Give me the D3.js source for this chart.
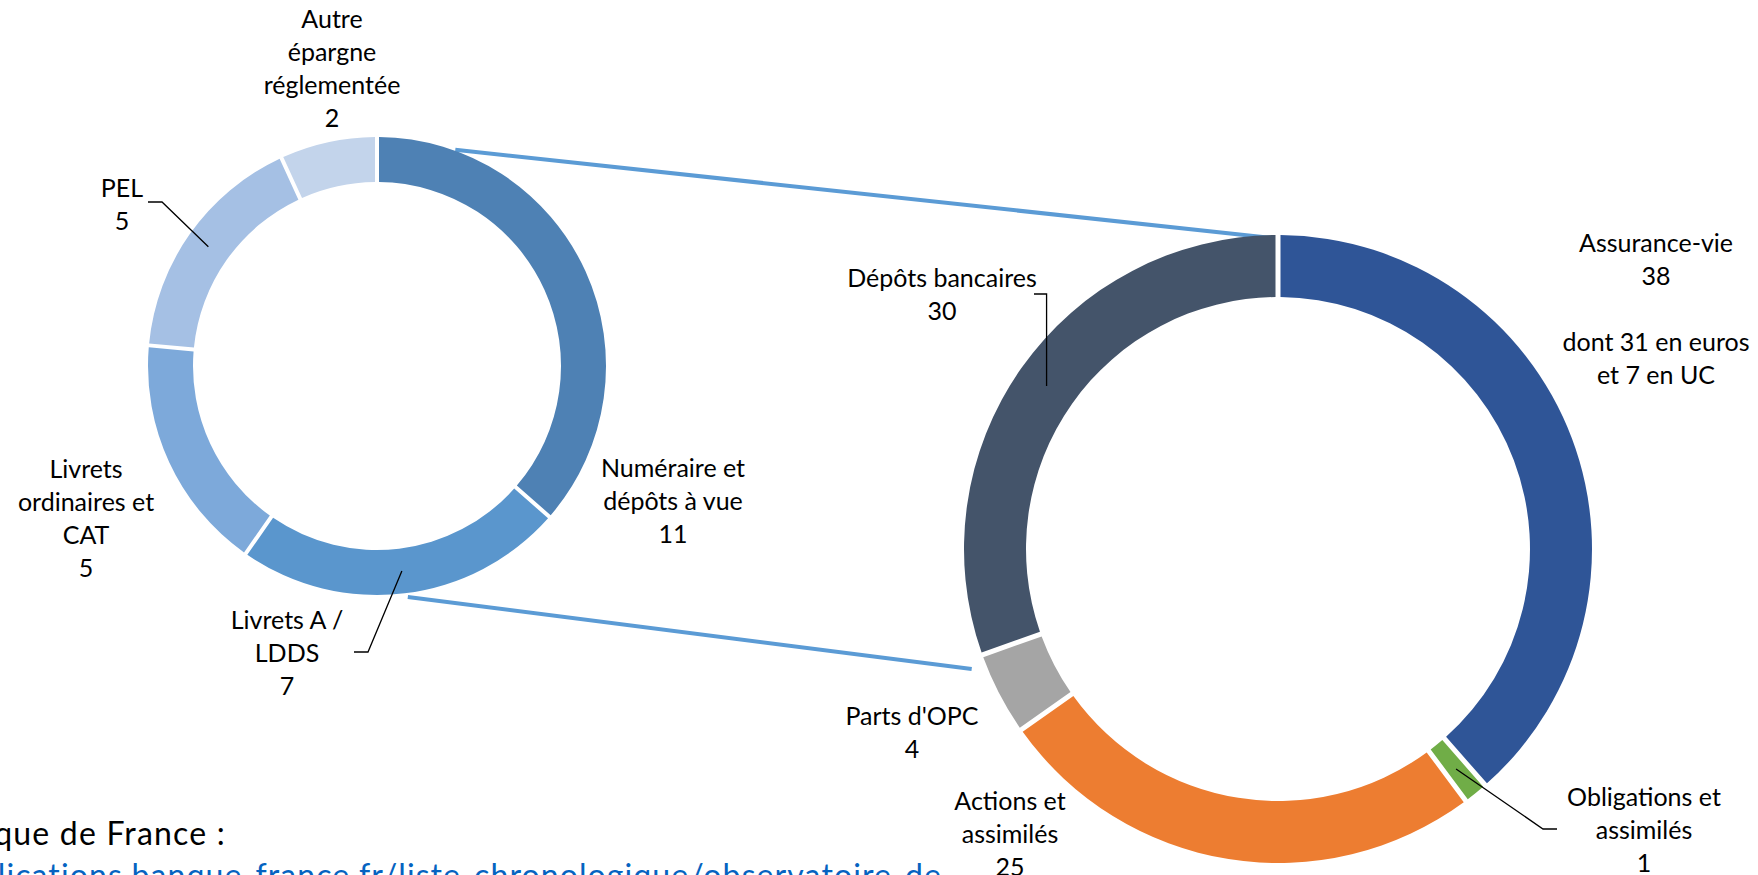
<!DOCTYPE html>
<html>
<head>
<meta charset="utf-8">
<script src="https://cdn.jsdelivr.net/npm/d3@7"></script>
<style>
  html, body { margin: 0; padding: 0; background: #fff; overflow: hidden; }
  text { font-family: Lato, "Liberation Sans", sans-serif; }
</style>
</head>
<body>
<svg id="chart"></svg>
<script>
// épargne réglementée + dépôts à vue (sous-détail des dépôts bancaires)
var depotsLabels = ["Numéraire et dépôts à vue", "Livrets A / LDDS", "Livrets ordinaires et CAT", "PEL", "Autre épargne réglementée"];
var depotsLines = [["Numéraire et", "dépôts à vue"], ["Livrets A /", "LDDS"], ["Livrets", "ordinaires et", "CAT"], ["PEL"], ["Autre", "épargne", "réglementée"]];
var depotsValues = [11, 7, 5, 5, 2];
var depotsColors = ["#4e81b4", "#5a96cd", "#7da9da", "#a5c0e4", "#c3d4eb"];

// placements financiers des ménages
var placLabels = ["Assurance-vie", "Obligations et assimilés", "Actions et assimilés", "Parts d'OPC", "Dépôts bancaires"];
var placLines = [["Assurance-vie"], ["Obligations et", "assimilés"], ["Actions et", "assimilés"], ["Parts d'OPC"], ["Dépôts bancaires"]];
var placValues = [38, 1, 25, 4, 30];
var placExtra = [["", "dont 31 en euros", "et 7 en UC"], [], [], [], []];
var placColors = ["#2f5597", "#70ad47", "#ed7d31", "#a5a5a5", "#44546a"];

var sourceLine = "Source : Banque de France :";
var linkLine = "https://publications.banque-france.fr/liste-chronologique/observatoire-de";

var W = 1758, H = 875;
var d3 = window.d3;
var svg = d3.select("#chart").attr("width", W).attr("height", H);
svg.append("rect").attr("width", W).attr("height", H).attr("fill", "#fff");

var lineH = 33;
var small = {cx: 377, cy: 366, r0: 184, r1: 229, gap: 4,
  // label anchors relative to center (x = centre du texte, y = 1re ligne de base)
  pos: [[296, 111], [-90, 263], [-291, 112], [-255, -169], [-45, -338]],
  leader: [null, [[81, 23], [67, 23]], null, [[40, 5], [26, 5]], null]
};
var big = {cx: 1278, cy: 549, r0: 252, r1: 314, gap: 5,
  pos: [[378, -297], [366, 257], [-268, 261], [-366, 176], [-336, -262]],
  leader: [null, [[-101, 23], [-87, 23]], null, null, ["v", [92, 7]]]
};

var pie = d3.pie().sort(null).value(function(d){ return d; });

function drawDonut(cfg, values, colors, lines, extra) {
  var g = svg.append("g").attr("transform", "translate(" + cfg.cx + "," + cfg.cy + ")");
  var arcs = pie.padAngle(cfg.gap / cfg.r1)(values);
  var arc = d3.arc().innerRadius(cfg.r0).outerRadius(cfg.r1).padRadius(cfg.r1);
  var mid = (cfg.r0 + cfg.r1) / 2;
  var midArc = d3.arc().innerRadius(mid).outerRadius(mid);

  g.selectAll("path.slice").data(arcs).enter().append("path")
    .attr("class", "slice")
    .attr("d", arc)
    .attr("fill", function(d, i){ return colors[i]; });

  arcs.forEach(function(d, i) {
    var p = cfg.pos[i];
    var txt = lines[i].concat([String(values[i])]).concat(extra ? extra[i] : []);
    var t = g.append("text")
      .attr("text-anchor", "middle")
      .attr("font-size", 25)
      .attr("fill", "#000");
    txt.forEach(function(s, k) {
      t.append("tspan").attr("x", p[0]).attr("y", p[1] + k * lineH).text(s);
    });
    var ld = cfg.leader[i];
    if (ld) {
      var c = midArc.centroid(d);
      var pts;
      if (ld[0] === "v") {
        var ey = p[1] + ld[1][1];
        pts = [c, [c[0], ey], [p[0] + ld[1][0], ey]];
      } else {
        pts = [c, [p[0] + ld[0][0], p[1] + ld[0][1]], [p[0] + ld[1][0], p[1] + ld[1][1]]];
      }
      g.append("path")
        .attr("d", d3.line()(pts))
        .attr("fill", "none")
        .attr("stroke", "#000")
        .attr("stroke-width", 1.3);
    }
  });
}

// connecteurs entre les deux anneaux
var connectors = [
  {a: 19.9, ra: 230, b: -1.1, rb: 311},
  {a: 172.4, ra: 233, b: 248.6, rb: 329}
];
connectors.forEach(function(cn) {
  var p1 = d3.pointRadial(cn.a * Math.PI / 180, cn.ra);
  var p2 = d3.pointRadial(cn.b * Math.PI / 180, cn.rb);
  svg.append("line")
    .attr("x1", small.cx + p1[0]).attr("y1", small.cy + p1[1])
    .attr("x2", big.cx + p2[0]).attr("y2", big.cy + p2[1])
    .attr("stroke", "#5b9bd5")
    .attr("stroke-width", 4);
});

drawDonut(small, depotsValues, depotsColors, depotsLines, null);
drawDonut(big, placValues, placColors, placLines, placExtra);

svg.append("text")
  .attr("x", 226).attr("y", 845)
  .attr("text-anchor", "end")
  .attr("font-size", 32)
  .attr("letter-spacing", 1.2)
  .attr("fill", "#000")
  .text(sourceLine);
svg.append("text")
  .attr("x", 942).attr("y", 887)
  .attr("text-anchor", "end")
  .attr("font-size", 32)
  .attr("letter-spacing", 1.1)
  .attr("fill", "#0563c1")
  .attr("text-decoration", "underline")
  .text(linkLine);
</script>
</body>
</html>
